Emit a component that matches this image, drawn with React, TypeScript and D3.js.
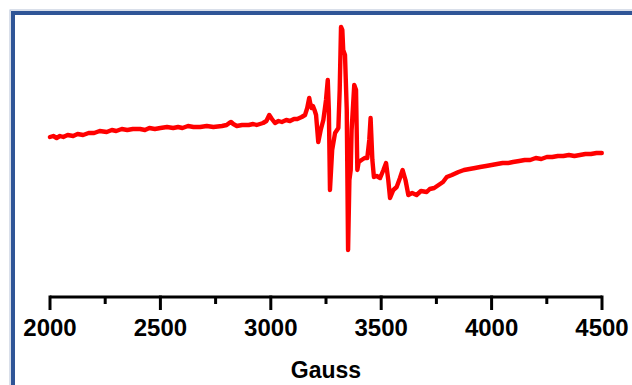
import React from "react";
import * as d3 from "d3";

// EPR spectrum (field in Gauss, signal in arbitrary units)
const gauss = [
  2000, 2015, 2030, 2045, 2060, 2080, 2105, 2125, 2150, 2175, 2200, 2225, 2257, 2280, 2300, 2325,
  2350, 2375, 2408, 2430, 2450, 2475, 2500, 2530, 2558, 2580, 2600, 2625, 2650, 2680, 2710, 2740,
  2779, 2800, 2812, 2820, 2830, 2846, 2870, 2900, 2920, 2936, 2965, 2980, 2993, 3005, 3019, 3035,
  3050, 3070, 3087, 3105, 3120, 3140, 3155, 3165, 3174, 3180, 3185, 3191, 3198, 3205, 3215, 3226,
  3238, 3250, 3258, 3263, 3268, 3278, 3291, 3306, 3312, 3318, 3324, 3328, 3336, 3344, 3350, 3356,
  3362, 3366, 3378, 3386, 3392, 3398, 3411, 3425, 3437, 3446, 3452, 3460, 3467, 3480, 3495, 3510,
  3522, 3532, 3540, 3555, 3570, 3585, 3597, 3610, 3623, 3640, 3660, 3680, 3706, 3720, 3740, 3760,
  3780, 3797, 3820, 3850, 3875, 3900, 3925, 3948, 3975, 4000, 4025, 4050, 4075, 4097, 4125, 4150,
  4175, 4200, 4225, 4250, 4275, 4300, 4325, 4350, 4375, 4400, 4425, 4450, 4475, 4499,
];
const signal = [
  13, 14, 12, 14, 13, 15, 14, 16, 15, 17, 17, 19, 18, 20, 19, 21,
  20, 21, 21, 20, 22, 21, 22, 23, 22, 23, 22, 24, 23, 23, 24, 23,
  24, 25, 27, 28, 26, 24, 25, 25, 26, 25, 27, 29, 35, 31, 27, 29,
  28, 30, 29, 31, 31, 33, 35, 42, 52, 45, 42, 44, 40, 35, 8, 20,
  30, 50, 70, 40, -40, 0, 17, 22, 60, 123, 120, 100, 95, 40, -100, -30,
  -20, 20, 65, 60, -20, -12, -10, -8, -8, 10, 32, -10, -27, -26, -28, -20,
  -13, -30, -48, -40, -37, -28, -20, -30, -45, -43, -45, -41, -42, -39, -38, -35,
  -32, -27, -25, -22, -20, -19, -18, -17, -16, -15, -14, -13, -13, -12, -11, -10,
  -10, -8, -9, -7, -7, -6, -6, -5, -6, -5, -4, -4, -3, -3,
];
const xTicks = [2000, 2500, 3000, 3500, 4000, 4500];
const minorTicks = [2250, 2750, 3250, 3750, 4250];
const xLabel = "Gauss";

export default function App() {
  const W = 632, H = 385;
  const x = d3.scaleLinear().domain([2000, 4500]).range([50, 602]);
  const y = d3.scaleLinear().domain([-100, 125]).range([250, 25]);
  const data = gauss.map((g, i) => [g, signal[i]] as [number, number]);
  const line = d3
    .line<[number, number]>()
    .x((d) => x(d[0]))
    .y((d) => y(d[1]))
    .curve(d3.curveLinear);
  const axisY = 297;
  const font = "'Liberation Sans', Arial, sans-serif";
  return (
    <svg
      width={W}
      height={H}
      viewBox={`0 0 ${W} ${H}`}
      style={{ position: "absolute", left: 0, top: 0, background: "#fff" }}
    >
      <rect x={0} y={0} width={W} height={H} fill="#fff" />
      <rect x={10} y={10} width={W + 20} height={H + 20} fill="none" stroke="#b4bfd6" strokeWidth={1} />
      <rect x={13} y={13} width={W + 20} height={H + 20} fill="none" stroke="#2f5597" strokeWidth={4} />
      <path d={line(data) || ""} fill="none" stroke="#ff0000" strokeWidth={4.4} strokeLinejoin="round" strokeLinecap="round" />
      <line x1={x(2000)} x2={x(4500)} y1={axisY} y2={axisY} stroke="#000" strokeWidth={3} />
      {xTicks.map((t) => (
        <g key={t}>
          <line x1={x(t)} x2={x(t)} y1={axisY - 1.5} y2={axisY + 13} stroke="#000" strokeWidth={3} />
          <text x={x(t)} y={336} textAnchor="middle" fontFamily={font} fontWeight="bold" fontSize={24} fill="#000">
            {t}
          </text>
        </g>
      ))}
      {minorTicks.map((t) => (
        <line key={t} x1={x(t)} x2={x(t)} y1={axisY} y2={axisY + 7} stroke="#000" strokeWidth={3} />
      ))}
      <text x={(x(2000) + x(4500)) / 2} y={378} textAnchor="middle" fontFamily={font} fontWeight="bold" fontSize={23} fill="#000">
        {xLabel}
      </text>
    </svg>
  );
}
